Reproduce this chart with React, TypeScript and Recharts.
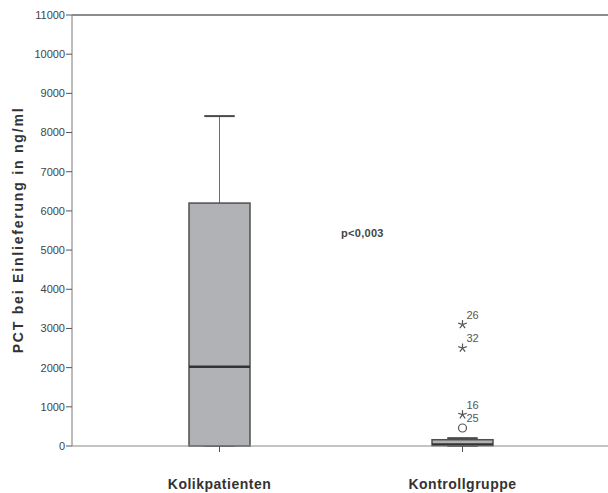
import { ComposedChart, Bar, Scatter, XAxis, YAxis, ReferenceLine } from "recharts";

// Boxplot statistics per group (ng/ml)
const categories = ["Kolikpatienten", "Kontrollgruppe"];
const whiskerLow = [0, 0];
const quartile1 = [0, 10];
const medians = [2020, 40];
const quartile3 = [6200, 160];
const whiskerHigh = [8420, 200];

// Outliers (SPSS case numbers)
const outlierGroup = ["Kontrollgruppe", "Kontrollgruppe", "Kontrollgruppe", "Kontrollgruppe"];
const outlierValues = [3100, 2500, 800, 460];
const outlierCases = ["26", "32", "16", "25"];
const outlierExtreme = [true, true, true, false];

const yTicks = [0, 1000, 2000, 3000, 4000, 5000, 6000, 7000, 8000, 9000, 10000, 11000];

const data = categories.map((name, i) => ({
  name,
  whisker: [whiskerLow[i], whiskerHigh[i]],
  box: [quartile1[i], quartile3[i]],
  median: [medians[i], medians[i]],
}));

const outliers = outlierValues.map((value, i) => ({
  name: outlierGroup[i],
  value,
  caseNo: outlierCases[i],
  extreme: outlierExtreme[i],
}));

const FONT = "'Liberation Sans', Arial, sans-serif";
const PAD = { left: 26, right: 24 };

function WhiskerShape({ x, y, width, height }: any) {
  const cx = x + width / 2;
  const half = width / 4;
  return (
    <g>
      <line x1={cx} x2={cx} y1={y} y2={y + height} stroke="#6e6e6e" strokeWidth={1} />
      <line x1={cx - half} x2={cx + half} y1={y} y2={y} stroke="#4a4a4a" strokeWidth={2} />
      <line x1={cx - half} x2={cx + half} y1={y + height} y2={y + height} stroke="#4a4a4a" strokeWidth={2} />
    </g>
  );
}

function BoxShape({ x, y, width, height }: any) {
  return (
    <rect x={x} y={y} width={width} height={Math.max(height, 1)} fill="#b1b2b6" stroke="#4f4f4f" strokeWidth={1.5} />
  );
}

function MedianShape({ x, y, width }: any) {
  return <line x1={x} x2={x + width} y1={y} y2={y} stroke="#333" strokeWidth={2.5} />;
}

function OutlierShape({ cx, cy, payload }: any) {
  let marker;
  if (payload.extreme) {
    const r = 4.5;
    const arms = [-90, -18, 54, 126, 198].map((a) => {
      const rad = (a * Math.PI) / 180;
      return (
        <line key={a} x1={cx} y1={cy} x2={cx + r * Math.cos(rad)} y2={cy + r * Math.sin(rad)} stroke="#555" strokeWidth={1.2} />
      );
    });
    marker = <g>{arms}</g>;
  } else {
    marker = <circle cx={cx} cy={cy} r={4} fill="none" stroke="#555" strokeWidth={1.2} />;
  }
  return (
    <g>
      {marker}
      <text x={cx + 4} y={cy - 6} fill="#555" fontSize={11} fontFamily={FONT}>
        {payload.caseNo}
      </text>
    </g>
  );
}

function YLabel() {
  return (
    <text
      x={10}
      y={222}
      transform="rotate(-90 10 222)"
      textAnchor="middle"
      dominantBaseline="central"
      fontFamily={FONT}
      fontWeight="bold"
      fontSize={14}
      letterSpacing={1.8}
      fill="#333"
    >
      PCT bei Einlieferung in ng/ml
    </text>
  );
}

export default function App() {
  return (
    <div
      style={{
        width: 608,
        height: 493,
        padding: "8px 0 0 8px",
        boxSizing: "border-box",
        overflow: "hidden",
        position: "relative",
        fontFamily: FONT,
      }}
    >
      <style>{"body{margin:0}"}</style>
      <ComposedChart width={600} height={485} data={data} margin={{ top: 7, right: 0, left: 0, bottom: 0 }}>
        <XAxis
          dataKey="name"
          type="category"
          allowDuplicatedCategory={false}
          padding={PAD}
          height={47}
          tickSize={6}
          tickMargin={27}
          axisLine={{ stroke: "#888" }}
          tickLine={{ stroke: "#555" }}
          tick={{ fill: "#333", fontSize: 14, fontWeight: "bold", fontFamily: FONT, letterSpacing: 0.5 }}
        />
        <XAxis xAxisId="box" dataKey="name" padding={PAD} hide />
        <XAxis xAxisId="med" dataKey="name" padding={PAD} hide />
        <YAxis
          width={64}
          domain={[0, 11000]}
          ticks={yTicks}
          interval={0}
          tickSize={6}
          tickMargin={1}
          axisLine={{ stroke: "#7a7a7a" }}
          tickLine={{ stroke: "#555" }}
          tick={{ fill: "#444", fontSize: 11, fontFamily: FONT }}
          label={<YLabel />}
        />
        <ReferenceLine y={11000} stroke="#8c8c8c" strokeWidth={2} />
        <Bar dataKey="whisker" barSize={61} shape={<WhiskerShape />} isAnimationActive={false} />
        <Bar xAxisId="box" dataKey="box" barSize={61} shape={<BoxShape />} isAnimationActive={false} />
        <Bar xAxisId="med" dataKey="median" barSize={61} shape={<MedianShape />} isAnimationActive={false} />
        <Scatter data={outliers} dataKey="value" shape={<OutlierShape />} isAnimationActive={false} />
      </ComposedChart>
      <div
        style={{
          position: "absolute",
          left: 341,
          top: 227,
          fontSize: 11,
          lineHeight: "13px",
          fontWeight: "bold",
          letterSpacing: 0.3,
          color: "#444",
        }}
      >
        p&lt;0,003
      </div>
    </div>
  );
}
